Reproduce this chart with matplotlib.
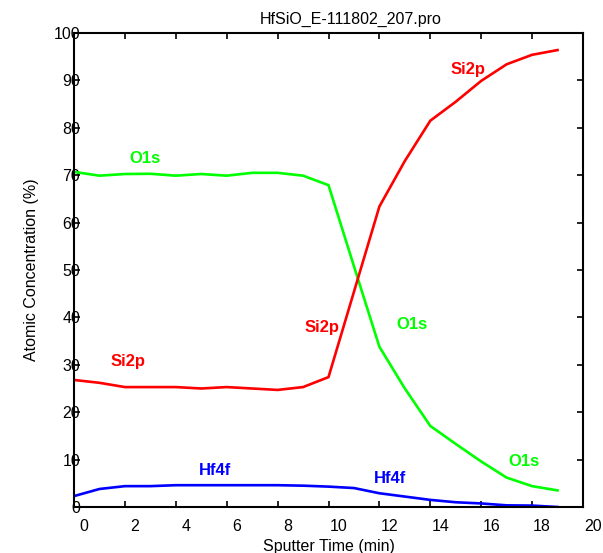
import matplotlib
matplotlib.use("Agg")
import matplotlib.pyplot as plt
from matplotlib.transforms import ScaledTranslation

plt.rcParams['font.family'] = ['Liberation Sans', 'DejaVu Sans']

# Data
time_min = [0, 1, 2, 3, 4, 5, 6, 7, 8, 9, 10, 11, 12, 13, 14, 15, 16, 17, 18, 19]
o1s = [70.7, 69.9, 70.25, 70.3, 69.9, 70.25, 69.9, 70.5, 70.5, 69.9, 67.9,
       50.8, 33.8, 25.0, 17.1, 13.3, 9.6, 6.2, 4.4, 3.5]
si2p = [26.8, 26.2, 25.3, 25.3, 25.3, 25.0, 25.3, 25.0, 24.7, 25.3, 27.4,
        45.4, 63.4, 73.0, 81.5, 85.5, 89.9, 93.4, 95.4, 96.4]
hf4f = [2.3, 3.8, 4.4, 4.4, 4.6, 4.6, 4.6, 4.6, 4.6, 4.5, 4.3,
        4.0, 2.9, 2.2, 1.5, 1.0, 0.75, 0.35, 0.3, 0.0]

series_names = ["O1s", "Si2p", "Hf4f"]
series_colors = ["#00ff00", "#ff0000", "#0000ff"]

# Curve annotations: (text, x, y, series index)
ann_text = ["O1s", "Si2p", "Hf4f", "Si2p", "O1s", "Hf4f", "O1s", "Si2p"]
ann_x = [2.79, 2.12, 5.54, 9.74, 13.28, 12.42, 17.68, 15.48]
ann_y = [73.6, 30.6, 7.8, 37.8, 38.4, 6.1, 9.7, 92.4]
ann_series = [0, 1, 2, 1, 0, 2, 0, 1]

x_ticks = list(range(0, 21, 2))
y_ticks = list(range(0, 101, 10))

fig = plt.figure(figsize=(6.03, 5.53), dpi=100)
ax = fig.add_axes([74/603, 1-507/553, (583-74)/603, (507-33)/553])

for vals, col in zip([o1s, si2p, hf4f], series_colors):
    ax.plot(time_min, vals, color=col, lw=1.9, solid_joinstyle='miter')

for t, x, y, s in zip(ann_text, ann_x, ann_y, ann_series):
    ax.text(x, y, t, color=series_colors[s], fontsize=12, fontweight='bold',
            ha='center', va='center')

ax.set_xlim(0, 20)
ax.set_ylim(0, 100)
ax.set_xticks(x_ticks)
ax.set_yticks(y_ticks)
ax.tick_params(direction='in', length=4, width=1.2, top=True, right=True,
               labelsize=11.5, colors='black')
ax.tick_params(axis='y', pad=-4.5)
ax.tick_params(axis='x', pad=8.5)
for sp in ax.spines.values():
    sp.set_linewidth(1.5)

shift = ScaledTranslation(10/100, 0, fig.dpi_scale_trans)
for lab in ax.get_xticklabels():
    lab.set_transform(lab.get_transform() + shift)

ax.set_xlabel("Sputter Time (min)", fontsize=11.5, labelpad=3.5)
ax.set_ylabel("Atomic Concentration (%)", fontsize=11.5, labelpad=10.5)
ax.set_title("HfSiO_E-111802_207.pro", fontsize=11.5, pad=6.5, x=0.543)

fig.savefig("out.png", dpi=100)
